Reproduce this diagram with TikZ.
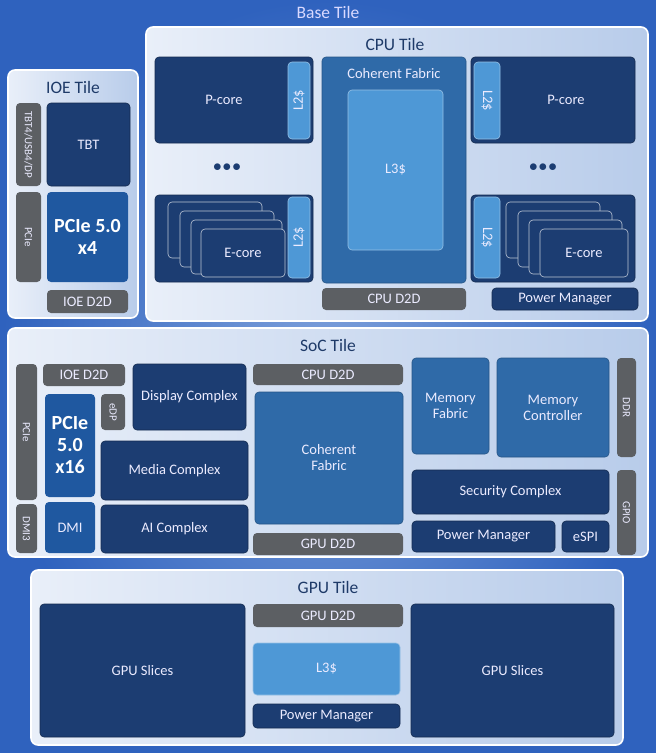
\documentclass[tikz,border=0pt]{standalone}
\usepackage{fontspec}
\setmainfont{Carlito}
\definecolor{tileL}{HTML}{E9EFF9}\definecolor{tileR}{HTML}{B8CCEA}
\definecolor{navyc}{HTML}{1C3D72}\definecolor{medc}{HTML}{2F6AA8}
\definecolor{litec}{HTML}{4E98D6}\definecolor{brightc}{HTML}{1F58A0}
\definecolor{grayc}{HTML}{5C5F63}\definecolor{titlec}{HTML}{1E3A68}
\definecolor{bgin}{HTML}{7FA2DC}\definecolor{bgout}{HTML}{2F62BE}
\begin{document}
\begin{tikzpicture}[x=1pt,y=-1pt,
  tile/.style={draw=white,line width=1.6pt,rounded corners=7pt,left color=tileL,right color=tileR},
  navy/.style={fill=navyc,rounded corners=4pt,draw=navyc!70!black,line width=0.6pt},
  med/.style={fill=medc,rounded corners=4pt,draw=medc!80!black,line width=0.6pt},
  lite/.style={fill=litec,rounded corners=4pt,draw=litec!60!white,line width=0.6pt},
  bright/.style={fill=brightc,rounded corners=4pt},
  gray/.style={fill=grayc,rounded corners=4pt},
  lbl/.style={text=white!92!blue,font=\fontsize{14.5}{16}\selectfont,align=center},
  ttl/.style={text=titlec,font=\fontsize{17.5}{19}\selectfont},
  big/.style={text=white,font=\fontsize{20}{22}\selectfont\bfseries,align=center}]
\newcommand\bx[7]{\node[#2,inner sep=0pt,outer sep=0pt,minimum width={#5-#3},minimum height={#6-#4},lbl] (#1) at ({(#3+#5)/2},{(#4+#6)/2}) {#7};}
\newcommand\rt[3]{\node[lbl,rotate=#2] at (#1.center) {#3};}
\useasboundingbox (0,0) rectangle (656,753);
\shade[inner color=bgin,outer color=bgout] (0,0) rectangle (656,753);
\node[text=white!85!blue,font=\fontsize{17.5}{19}\selectfont] (base) at (328,12) {Base Tile};
% CPU tile
\bx{cpu}{tile}{146}{27}{648}{321}{}
\node[ttl] (cput) at (395,44) {CPU Tile};
\bx{pcl}{navy}{155}{57}{313}{143}{P-core\hspace*{20pt}}
\bx{l2a}{lite}{288}{62}{310}{139}{}\rt{l2a}{90}{L2\$}
\node[text=navyc,font=\fontsize{16}{16}\selectfont\bfseries] (dl) at (227,168) {$\bullet\!\bullet\!\bullet$};
\bx{ecl}{navy}{155}{195}{313}{282}{}
\bx{e1}{navy,draw=white!70!navyc}{168}{202}{262}{258}{}
\bx{e2}{navy,draw=white!70!navyc}{180}{211}{274}{267}{}
\bx{e3}{navy,draw=white!70!navyc}{191}{220}{282}{274}{}
\bx{e4}{navy,draw=white!70!navyc}{201}{229}{285}{277}{E-core}
\bx{l2b}{lite}{288}{197}{310}{278}{}\rt{l2b}{90}{L2\$}
\bx{cf}{med}{322}{57}{466}{283}{}
\node[lbl] (cft) at (394,74) {Coherent Fabric};
\bx{l3}{lite}{348}{90}{443}{250}{L3\$}
\bx{cd2d}{gray}{322}{288}{466}{310}{CPU D2D}
\bx{pcr}{navy}{471}{57}{635}{143}{\hspace*{26pt}P-core}
\bx{l2c}{lite}{474}{62}{500}{139}{}\rt{l2c}{-90}{L2\$}
\node[text=navyc,font=\fontsize{16}{16}\selectfont\bfseries] (dr) at (543,168) {$\bullet\!\bullet\!\bullet$};
\bx{ecr}{navy}{471}{195}{635}{282}{}
\bx{f1}{navy,draw=white!70!navyc}{506}{202}{600}{258}{}
\bx{f2}{navy,draw=white!70!navyc}{518}{211}{612}{267}{}
\bx{f3}{navy,draw=white!70!navyc}{529}{220}{622}{274}{}
\bx{f4}{navy,draw=white!70!navyc}{540}{229}{628}{277}{E-core}
\bx{l2d}{lite}{474}{197}{500}{278}{}\rt{l2d}{-90}{L2\$}
\bx{cpm}{navy}{492}{288}{638}{310}{Power Manager}
% IOE tile
\bx{ioe}{tile}{8}{70}{138}{318}{}
\node[ttl] (ioet) at (73,87) {IOE Tile};
\bx{tbt4}{gray}{16}{103}{41}{186}{}\node[lbl,rotate=-90,font=\fontsize{11}{12}\selectfont] at (tbt4.center) {TBT4/USB4/DP};
\bx{tbt}{navy}{47}{103}{130}{186}{TBT}
\bx{ipc}{gray}{16}{192}{41}{282}{}\node[lbl,rotate=-90,font=\fontsize{11}{12}\selectfont] at (ipc.center) {PCIe};
\bx{ip4}{bright}{47}{192}{128}{282}{}\node[big] at (ip4.center) {PCIe 5.0\\x4};
\bx{iod}{gray}{47}{290}{128}{313}{IOE D2D}
% SoC tile
\bx{soc}{tile}{8}{328}{648}{557}{}
\node[ttl] (soct) at (328,345) {SoC Tile};
\bx{spc}{gray}{16}{364}{37}{500}{}\node[lbl,rotate=-90,font=\fontsize{11}{12}\selectfont] at (spc.center) {PCIe};
\bx{dmi3}{gray}{16}{504}{37}{553}{}\node[lbl,rotate=-90,font=\fontsize{11}{12}\selectfont] at (dmi3.center) {DMI3};
\bx{sio}{gray}{43}{364}{125}{386}{IOE D2D}
\bx{sp16}{bright}{45}{394}{95}{497}{}\node[big] at (sp16.center) {PCIe\\5.0\\x16};
\bx{edp}{gray}{101}{394}{125}{430}{}\node[lbl,rotate=-90,font=\fontsize{11}{12}\selectfont] at (edp.center) {eDP};
\bx{dmi}{bright}{45}{502}{95}{553}{DMI}
\bx{disp}{navy}{133}{364}{246}{430}{Display Complex}
\bx{media}{navy}{101}{441}{248}{500}{Media Complex}
\bx{ai}{navy}{101}{505}{248}{553}{AI Complex}
\bx{scd}{gray}{253}{364}{403}{385}{CPU D2D}
\bx{scf}{med}{255}{392}{403}{524}{Coherent\\Fabric}
\bx{sgd}{gray}{253}{533}{403}{555}{GPU D2D}
\bx{mf}{med}{412}{358}{489}{454}{Memory\\Fabric}
\bx{mc}{med}{497}{358}{609}{457}{Memory\\Controller}
\bx{ddr}{gray}{617}{358}{636}{457}{}\node[lbl,rotate=-90,font=\fontsize{11}{12}\selectfont] at (ddr.center) {DDR};
\bx{sec}{navy}{412}{470}{609}{514}{Security Complex}
\bx{gpio}{gray}{617}{470}{636}{555}{}\node[lbl,rotate=-90,font=\fontsize{11}{12}\selectfont] at (gpio.center) {GPIO};
\bx{spm}{navy}{412}{521}{555}{552}{Power Manager}
\bx{espi}{navy}{562}{521}{609}{552}{eSPI}
% GPU tile
\bx{gpu}{tile}{31}{570}{623}{745}{}
\node[ttl] (gput) at (328,587) {GPU Tile};
\bx{gsl}{navy}{40}{604}{245}{737}{GPU Slices}
\bx{gsr}{navy}{411}{604}{614}{737}{GPU Slices}
\bx{ggd}{gray}{253}{604}{403}{627}{GPU D2D}
\bx{gl3}{lite}{253}{643}{400}{695}{L3\$}
\bx{gpm}{navy}{253}{704}{400}{728}{Power Manager}
\end{tikzpicture}
\end{document}
